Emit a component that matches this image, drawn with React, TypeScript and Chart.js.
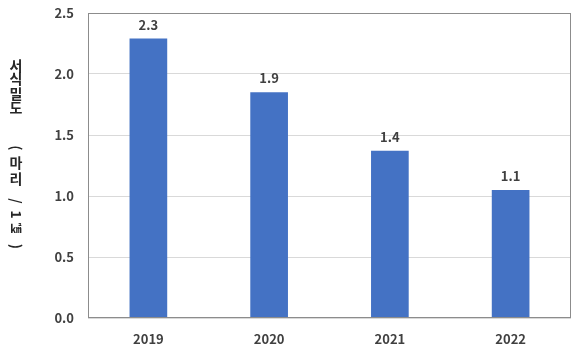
import React, { useEffect, useRef } from "react";
import { Chart, registerables } from "chart.js";

Chart.register(...registerables);

const categories = ["2019", "2020", "2021", "2022"];
const densityValues = [2.29, 1.85, 1.37, 1.05];
const yTicks = [0, 0.5, 1.0, 1.5, 2.0, 2.5];
const yTitleChars = ["서", "식", "밀", "도", "(", "마", "리", "/", "1", "㎢", ")"];
const yTitleCenters = [65.5, 79, 93.5, 108, 148, 163, 179, 201, 214.5, 229, 246.5];

const FONT = "'Noto Sans CJK KR', 'Noto Sans', sans-serif";
const TEXT_COLOR = "#404040";

const frameAndLabels = {
  id: "frameAndLabels",
  afterDatasetsDraw(chart: any) {
    const { ctx, chartArea } = chart;
    ctx.save();
    ctx.strokeStyle = "#8c8c8c";
    ctx.lineWidth = 1;
    ctx.strokeRect(
      Math.round(chartArea.left) + 0.5,
      Math.round(chartArea.top) + 0.5,
      Math.round(chartArea.right - chartArea.left) - 1,
      Math.round(chartArea.bottom - chartArea.top) - 1
    );
    // data labels
    const meta = chart.getDatasetMeta(0);
    ctx.fillStyle = TEXT_COLOR;
    ctx.font = `bold 13px ${FONT}`;
    ctx.textAlign = "center";
    ctx.textBaseline = "middle";
    meta.data.forEach((bar: any, i: number) => {
      const v = chart.data.datasets[0].data[i] as number;
      ctx.fillText((Math.round(v * 10) / 10).toFixed(1), bar.x, bar.y - 14);
    });
    // vertical y-axis title (stacked characters)
    ctx.fillStyle = "#262626";
    const x = 16;
    yTitleChars.forEach((ch, i) => {
      const cy = yTitleCenters[i];
      const isHangul = /[\uAC00-\uD7A3]/.test(ch);
      ctx.save();
      ctx.textAlign = "center";
      ctx.textBaseline = "middle";
      if (isHangul) {
        ctx.font = `bold 14px ${FONT}`;
        ctx.fillText(ch, x, cy);
      } else if (ch === "㎢") {
        ctx.font = `bold 11px ${FONT}`;
        ctx.fillText(ch, x, cy);
      } else {
        ctx.font = `bold 14px ${FONT}`;
        ctx.translate(x, cy);
        ctx.rotate(Math.PI / 2);
        ctx.fillText(ch, 0, 0);
      }
      ctx.restore();
    });
    ctx.restore();
  },
};

export default function App() {
  const canvasRef = useRef<HTMLCanvasElement | null>(null);

  useEffect(() => {
    document.body.style.margin = "0";
    const canvas = canvasRef.current;
    if (!canvas) return;
    const chart = new Chart(canvas, {
      type: "bar",
      data: {
        labels: categories,
        datasets: [
          {
            data: densityValues,
            backgroundColor: "#4472C4",
            borderWidth: 0,
            categoryPercentage: 1,
            barPercentage: 0.312,
          },
        ],
      },
      options: {
        animation: false,
        responsive: false,
        maintainAspectRatio: false,
        layout: { padding: { left: 0, right: 7, top: 13, bottom: 0 } },
        plugins: {
          legend: { display: false },
          tooltip: { enabled: false },
          title: { display: false },
        },
        scales: {
          x: {
            grid: { display: false, drawTicks: false },
            border: { display: false },
            ticks: {
              color: TEXT_COLOR,
              font: { family: FONT, size: 13, weight: "bold" },
              padding: 13,
            },
            afterFit(scale: any) {
              scale.height = 39;
              scale.paddingLeft = 0;
              scale.paddingRight = 0;
            },
          },
          y: {
            min: 0,
            max: 2.5,
            afterBuildTicks(scale: any) {
              scale.ticks = yTicks.map((v) => ({ value: v }));
            },
            grid: { color: "#d9d9d9", drawTicks: false },
            border: { display: false },
            ticks: {
              color: TEXT_COLOR,
              font: { family: FONT, size: 13, weight: "bold" },
              padding: 14,
              callback: (v: any) => Number(v).toFixed(1),
            },
            afterFit(scale: any) {
              scale.width = 88;
              scale.paddingTop = 0;
              scale.paddingBottom = 0;
            },
          },
        },
      },
      plugins: [frameAndLabels],
    });
    return () => chart.destroy();
  }, []);

  return (
    <div style={{ position: "absolute", left: 0, top: 0, width: 578, height: 357, background: "#fff" }}>
      <canvas ref={canvasRef} width={578} height={357} style={{ width: 578, height: 357 }} />
    </div>
  );
}
